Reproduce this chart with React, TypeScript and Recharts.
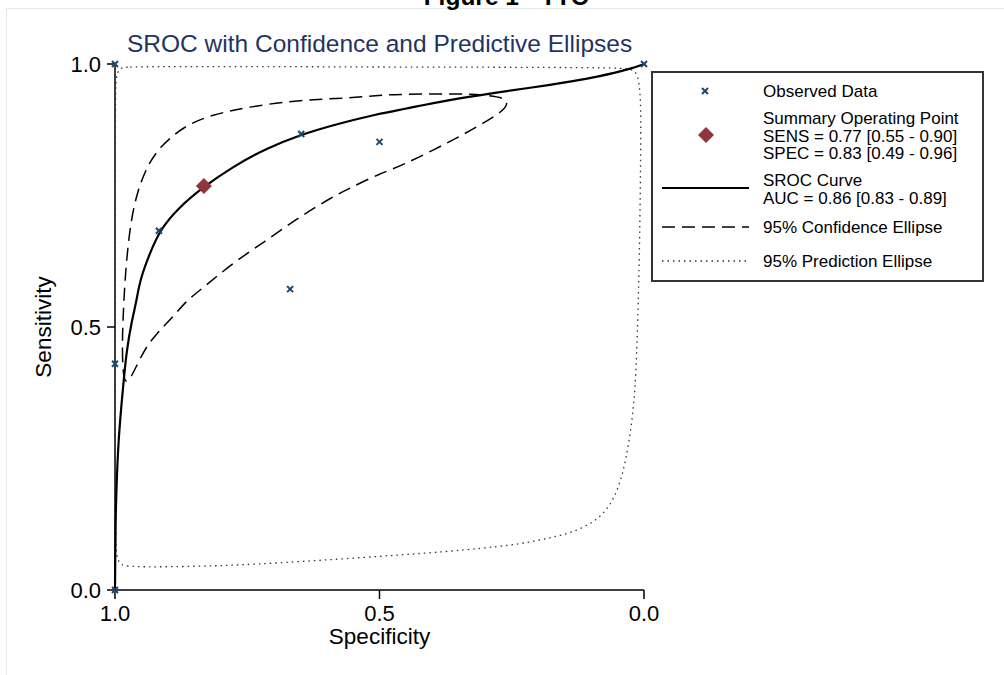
import { ScatterChart, Scatter, XAxis, YAxis } from 'recharts';

// observed studies (specificity, sensitivity)
const obsSpec = [1.0, 1.0, 1.0, 0.917, 0.648, 0.5, 0.669, 0.0];
const obsSens = [1.0, 0.43, 0.0, 0.683, 0.867, 0.852, 0.572, 1.0];

// summary operating point
const sumSpec = [0.832];
const sumSens = [0.768];

// SROC curve
const srocSpec = [1.0, 0.9995, 0.999, 0.998, 0.994, 0.984, 0.978, 0.968, 0.959, 0.953, 0.934, 0.915, 0.883, 0.832, 0.777, 0.713, 0.65, 0.588, 0.499, 0.461, 0.367, 0.291, 0.178, 0.083, 0.021, 0.0];
const srocSens = [0.0, 0.06, 0.12, 0.171, 0.285, 0.394, 0.456, 0.513, 0.551, 0.589, 0.641, 0.684, 0.724, 0.767, 0.805, 0.84, 0.865, 0.884, 0.906, 0.913, 0.932, 0.944, 0.96, 0.976, 0.992, 1.0];

// 95% confidence ellipse (closed shape, start point not repeated)
const confSpec = [0.983, 0.986, 0.986, 0.985, 0.981, 0.972, 0.959, 0.94, 0.915, 0.871, 0.82, 0.745, 0.65, 0.556, 0.499, 0.461, 0.367, 0.291, 0.255, 0.262, 0.304, 0.367, 0.461, 0.499, 0.556, 0.588, 0.65, 0.713, 0.777, 0.839, 0.864, 0.896, 0.921, 0.946, 0.972];
const confSens = [0.393, 0.437, 0.475, 0.513, 0.596, 0.691, 0.754, 0.805, 0.843, 0.881, 0.903, 0.919, 0.932, 0.935, 0.941, 0.942, 0.944, 0.941, 0.933, 0.913, 0.887, 0.852, 0.805, 0.792, 0.764, 0.748, 0.71, 0.665, 0.622, 0.57, 0.551, 0.513, 0.488, 0.456, 0.397];

// 95% prediction ellipse (closed shape, start point not repeated)
const predSpec = [0.9995, 0.997, 0.839, 0.65, 0.461, 0.272, 0.083, 0.03, 0.016, 0.01, 0.006, 0.006, 0.008, 0.011, 0.014, 0.017, 0.023, 0.033, 0.045, 0.064, 0.096, 0.14, 0.171, 0.197, 0.241, 0.367, 0.556, 0.745, 0.839, 0.98, 0.991, 0.997, 0.9995, 0.9995];
const predSens = [0.99, 0.995, 0.995, 0.995, 0.994, 0.994, 0.993, 0.992, 0.986, 0.972, 0.93, 0.856, 0.665, 0.539, 0.444, 0.38, 0.317, 0.253, 0.203, 0.158, 0.127, 0.108, 0.101, 0.095, 0.086, 0.073, 0.06, 0.048, 0.045, 0.043, 0.05, 0.063, 0.095, 0.551];

const ticks = [0, 0.5, 1];

const toRows = (xs: number[], ys: number[]) => xs.map((x, i) => ({ x, y: ys[i] }));

const NAVY = '#1a476f';
const MAROON = '#90353b';
const FONT = '"Liberation Sans", Arial, sans-serif';

const Nothing = () => <g />;

const Cross = (props: any) => {
  const { cx, cy } = props;
  const s = 3;
  return (
    <g stroke={NAVY} strokeWidth={2}>
      <line x1={cx - s} y1={cy - s} x2={cx + s} y2={cy + s} />
      <line x1={cx - s} y1={cy + s} x2={cx + s} y2={cy - s} />
    </g>
  );
};

const Diamond = (props: any) => {
  const { cx, cy } = props;
  const r = 8;
  return <polygon points={`${cx},${cy - r} ${cx + r},${cy} ${cx},${cy + r} ${cx - r},${cy}`} fill={MAROON} />;
};

export default function App() {
  const fmt = (v: number) => v.toFixed(1);
  return (
    <div style={{ position: 'absolute', left: 0, top: 0, width: 1004, height: 675, background: '#fff', fontFamily: FONT, overflow: 'hidden' }}>
      <div style={{ position: 'absolute', left: 6, top: 8, width: 1100, height: 800, border: '1px solid #e2eaea' }} />
      <ScatterChart width={1004} height={675} margin={{ top: 64, right: 360, bottom: 25, left: 20 }}>
        <XAxis
          type="number"
          dataKey="x"
          domain={[0, 1]}
          reversed
          ticks={ticks}
          tickFormatter={fmt}
          tickSize={9}
          tickMargin={6}
          height={60}
          axisLine={{ stroke: '#000', strokeWidth: 1.5 }}
          tickLine={{ stroke: '#000', strokeWidth: 1.5 }}
          tick={{ fill: '#000', fontSize: 22 }}
          label={{ value: 'Specificity', position: 'insideBottom', offset: 6, fill: '#000', fontSize: 22.5 }}
        />
        <YAxis
          type="number"
          dataKey="y"
          domain={[0, 1]}
          ticks={ticks}
          tickFormatter={fmt}
          tickSize={8}
          tickMargin={6}
          width={95}
          axisLine={{ stroke: '#000', strokeWidth: 1.5 }}
          tickLine={{ stroke: '#000', strokeWidth: 1.5 }}
          tick={{ fill: '#000', fontSize: 22 }}
          label={{ value: 'Sensitivity', angle: -90, position: 'insideLeft', offset: 23, fill: '#000', fontSize: 22.5, style: { textAnchor: 'middle' } }}
        />
        <Scatter
          data={toRows(predSpec, predSens)}
          shape={Nothing}
          line={{ stroke: '#333', strokeWidth: 1.3, strokeDasharray: '1.5 4', fill: 'none' }}
          lineJointType="basisClosed"
          isAnimationActive={false}
        />
        <Scatter
          data={toRows(confSpec, confSens)}
          shape={Nothing}
          line={{ stroke: '#000', strokeWidth: 1.5, strokeDasharray: '13 7', fill: 'none' }}
          lineJointType="basisClosed"
          isAnimationActive={false}
        />
        <Scatter
          data={toRows(srocSpec, srocSens)}
          shape={Nothing}
          line={{ stroke: '#000', strokeWidth: 2.2, fill: 'none' }}
          lineJointType="basis"
          isAnimationActive={false}
        />
        <Scatter data={toRows(obsSpec, obsSens)} shape={Cross} isAnimationActive={false} />
        <Scatter data={toRows(sumSpec, sumSens)} shape={Diamond} isAnimationActive={false} />
      </ScatterChart>

      <svg width={1004} height={675} style={{ position: 'absolute', left: 0, top: 0, pointerEvents: 'none' }}>
        <text x={506} y={5} textAnchor="middle" fontSize={24.5} fontWeight="bold" fill="#000">Figure 1 - TTC</text>
        <text x={127} y={52} fontSize={24.5} fill="#1f3462">SROC with Confidence and Predictive Ellipses</text>

        <g transform="translate(652,72)">
          <rect x={0} y={0} width={331} height={209} fill="#fff" stroke="#333" strokeWidth={2} />
          <g stroke={NAVY} strokeWidth={2}>
            <line x1={50} y1={16} x2={56} y2={22} />
            <line x1={50} y1={22} x2={56} y2={16} />
          </g>
          <polygon points="54,55 62,63 54,71 46,63" fill={MAROON} />
          <line x1={10} y1={116} x2={97} y2={116} stroke="#000" strokeWidth={2.2} />
          <line x1={10} y1={155} x2={97} y2={155} stroke="#000" strokeWidth={1.5} strokeDasharray="13 7" />
          <line x1={10} y1={189} x2={97} y2={189} stroke="#333" strokeWidth={1.3} strokeDasharray="1.5 4" />
          <g fontSize={17} fill="#000">
            <text x={111} y={25}>Observed Data</text>
            <text x={111} y={52}>Summary Operating Point</text>
            <text x={111} y={70}>SENS = 0.77 [0.55 - 0.90]</text>
            <text x={111} y={87}>SPEC = 0.83 [0.49 - 0.96]</text>
            <text x={111} y={114}>SROC Curve</text>
            <text x={111} y={132}>AUC = 0.86 [0.83 - 0.89]</text>
            <text x={111} y={161}>95% Confidence Ellipse</text>
            <text x={111} y={195}>95% Prediction Ellipse</text>
          </g>
        </g>
      </svg>
    </div>
  );
}
